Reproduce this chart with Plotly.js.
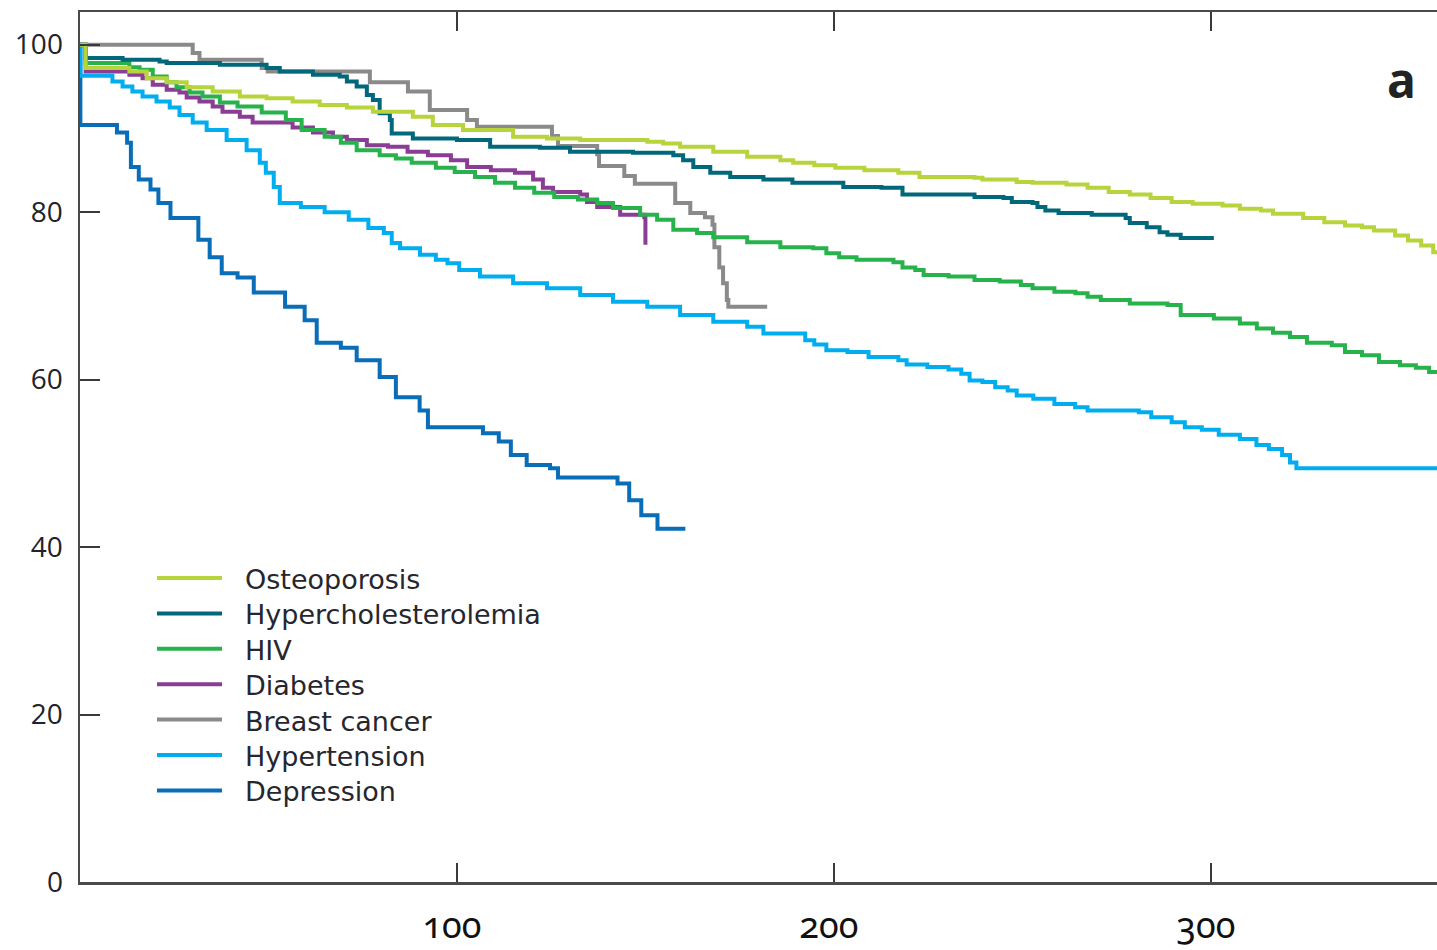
<!DOCTYPE html>
<html>
<head>
<meta charset="utf-8">
<script src="https://cdn.plot.ly/plotly-3.0.1.min.js"></script>
<style>
  html, body { margin: 0; padding: 0; background: #fff; }
  #chart { width: 1437px; height: 950px; }
  .xtick text { font-feature-settings: "onum" 1; }
</style>
</head>
<body>
<div id="chart"></div>
<script>
// ---- data (time on x, percentage still on therapy on y) ----
const seriesNames = ["Osteoporosis", "Hypercholesterolemia", "HIV", "Diabetes", "Breast cancer", "Hypertension", "Depression"];
const seriesColors = ["#B8D43C", "#00687A", "#27B24B", "#8B3D96", "#8A8A8A", "#00AEEF", "#0A6DB8"];

const osteoT = [0,1.5,13.1,17.7,23.0,28.3,35.2,42.4,49.5,56.4,63.6,70.8,77.7,88.3,93.6,101.6,114.9,123.9,132.7,150.5,154.7,159.2,168.0,177.0,185.8,189.2,194.8,200.4,208.1,217.1,222.7,237.3,239.4,248.5,252.7,261.7,267.3,272.9,278.5,284.0,289.6,295.2,303.1,307.7,313.3,316.5,324.5,330.1,335.6,340.1,343.3,348.9,352.3,355.8,359.0,360];
const osteoS = [100,97.2,96.8,96.0,95.5,94.9,94.4,93.8,93.6,93.2,92.8,92.5,92.0,91.4,90.4,89.8,89.0,88.8,88.6,88.4,88.2,87.8,87.2,86.6,86.2,85.9,85.6,85.3,85.0,84.7,84.2,84.1,83.9,83.6,83.5,83.3,82.9,82.4,82.1,81.7,81.2,81.0,80.8,80.4,80.2,79.8,79.3,78.8,78.4,78.2,77.8,77.2,76.6,76.0,75.2,75.1];

const hcT = [0,1.5,11.3,21.1,23.0,37.1,49.5,53.0,61.8,68.9,70.8,73.4,76.1,77.7,79.5,82.2,82.7,88.3,100.0,108.8,122.0,130.0,146.7,157.4,160.0,162.7,167.2,172.5,181.3,189.0,202.5,212.6,218.2,237.3,245.0,247.2,252.7,254.0,256.1,259.6,268.4,277.4,278.5,283.0,286.4,288.5,292.0,300.8];
const hcS = [100,98.4,98.2,98.0,97.8,97.6,97.2,96.8,96.4,96.2,95.6,95.0,94.0,93.4,91.8,91.0,89.4,88.8,88.6,87.8,87.7,87.2,87.1,86.8,86.2,85.4,84.7,84.2,83.9,83.5,83.0,82.9,82.1,81.8,81.7,81.2,81.1,80.6,80.2,79.9,79.7,79.3,78.7,78.2,77.6,77.3,76.9,76.9];

const hivT = [0,1.5,13.1,15.8,19.3,23.0,25.6,29.1,32.5,37.1,41.8,48.2,54.6,58.8,64.9,69.2,73.4,79.5,83.8,88.0,94.4,99.4,104.8,110.1,115.4,120.5,125.8,132.1,137.2,141.4,148.6,153.1,157.4,163.7,168.0,177.0,185.8,194.5,198.0,201.4,206.0,215.8,218.2,221.6,223.8,230.4,237.3,244.0,249.6,252.7,258.5,264.1,267.3,270.8,278.5,288.5,292.0,300.8,307.7,312.2,316.5,321.0,325.5,332.1,335.6,340.1,344.6,350.2,354.4,357.9,360];
const hivS = [100,97.8,97.3,97.0,96.2,95.5,94.9,94.3,93.8,93.1,92.6,91.9,91.0,89.8,89.0,88.3,87.4,86.8,86.4,85.9,85.3,84.8,84.2,83.5,82.9,82.3,81.8,81.5,81.1,80.5,79.7,79.1,77.9,77.5,77.0,76.4,75.8,75.7,75.1,74.6,74.3,74.0,73.4,73.1,72.5,72.3,71.9,71.7,71.3,70.9,70.5,70.3,69.9,69.5,69.1,68.9,67.7,67.3,66.7,66.1,65.6,65.1,64.4,64.1,63.3,62.9,62.1,61.7,61.4,60.9,60.9];

const dbT = [0,1.5,13.1,16.6,19.3,23.0,26.4,28.3,31.7,35.2,37.8,42.4,45.8,56.4,61.8,67.1,70.8,76.1,81.7,86.9,92.3,98.4,102.7,109.0,115.4,120.2,122.8,125.5,132.7,134.5,137.2,143.3,149.7,150.0];
const dbS = [100,96.8,96.4,96.0,95.2,94.6,94.3,93.7,93.2,92.6,92.0,91.4,90.7,90.1,89.5,89.0,88.6,88.0,87.8,87.2,86.8,86.2,85.4,85.0,84.7,83.9,82.9,82.4,82.1,81.2,80.6,79.7,79.4,76.1];

const bcT = [0,29.9,31.7,48.2,49.8,76.9,87.0,92.8,102.7,105.3,125.2,126.8,137.2,137.7,144.4,147.2,157.9,161.9,165.8,167.8,168.3,169.6,170.6,171.6,172.0,182.3];
const bcS = [100,99.0,98.2,97.2,96.8,95.5,94.4,92.2,91.0,90.2,89.1,87.9,86.9,85.5,84.3,83.4,81.1,79.9,79.4,78.5,75.8,73.4,71.5,69.5,68.7,68.7];

const htT = [0,0.1,8.6,11.3,13.9,16.6,20.3,23.8,26.4,29.9,33.6,38.9,44.2,47.7,49.3,51.4,53.0,58.6,64.9,71.3,76.5,80.6,82.7,84.9,90.2,94.4,97.5,100.6,106.1,114.9,123.9,132.7,141.4,150.5,159.2,168.0,177.0,181.3,192.4,194.8,198.0,203.6,209.2,217.1,219.3,224.8,230.4,233.8,236.0,239.4,242.8,246.1,248.5,252.9,258.5,264.0,267.3,280.9,284.2,289.6,293.1,297.6,302.1,307.7,312.1,315.4,318.9,321.0,322.7,360];
const htS = [100,96.3,95.6,95.0,94.4,93.8,93.2,92.5,91.6,90.7,89.8,88.6,87.4,85.9,84.7,83.0,81.1,80.6,80.0,79.1,78.1,77.5,76.3,75.7,74.9,74.3,73.9,73.1,72.3,71.5,70.9,70.1,69.3,68.7,67.7,66.9,66.3,65.5,64.7,64.2,63.5,63.3,62.7,62.3,61.8,61.5,61.2,60.7,59.9,59.7,59.1,58.7,58.1,57.7,57.1,56.7,56.3,56.1,55.5,54.9,54.3,54.0,53.4,52.9,52.2,51.7,51.0,50.1,49.4,49.4];

const dpT = [0,0.1,9.8,12.5,13.5,15.6,18.7,20.8,24.0,31.4,34.4,37.6,41.8,46.1,54.4,59.6,62.8,69.2,73.4,79.5,83.8,90.1,92.3,106.9,111.1,114.3,118.5,124.7,126.8,142.6,145.7,148.9,153.2,160.6];
const dpS = [100,90.4,89.5,88.3,85.4,83.9,82.7,81.1,79.3,76.7,74.6,72.7,72.2,70.4,68.7,67.1,64.4,63.8,62.3,60.3,57.9,56.3,54.3,53.6,52.6,51.0,49.8,49.4,48.3,47.6,45.6,43.8,42.2,42.2];

const xTickVals = [100, 200, 300];
const xTickText = ["100", "200", "300"];
const yTickVals = [0, 20, 40, 60, 80, 100];
const yTickText = ["0", "20", "40", "60", "80", "100"];
const panelLabel = "a";

// ---- build ----
const seriesX = [osteoT, hcT, hivT, dbT, bcT, htT, dpT];
const seriesY = [osteoS, hcS, hivS, dbS, bcS, htS, dpS];
const drawOrder = [6, 5, 4, 3, 2, 1, 0];

const traces = drawOrder.map(i => ({
  type: "scatter",
  mode: "lines",
  name: seriesNames[i],
  x: seriesX[i],
  y: seriesY[i],
  line: { color: seriesColors[i], width: 4, shape: "hv" },
  hoverinfo: "skip"
}));

// manual legend (long line samples as in the original figure)
const plotL = 80, plotR = 1437, plotT = 12, plotB = 882;
const pw = plotR - plotL, ph = plotB - plotT;
const px = v => (v - plotL) / pw;
const py = v => (plotB - v) / ph;

const shapes = [];
const annotations = [];
seriesNames.forEach((nm, i) => {
  const yy = 578 + i * 35.4;
  shapes.push({
    type: "line", xref: "paper", yref: "paper",
    x0: px(157), x1: px(222), y0: py(yy), y1: py(yy),
    line: { color: seriesColors[i], width: 4 }
  });
  annotations.push({
    xref: "paper", yref: "paper", x: px(243), y: py(yy + 1.5),
    xanchor: "left", yanchor: "middle", showarrow: false,
    text: nm, font: { family: "DejaVu Sans", size: 27, color: "#26262e" }
  });
});
annotations.push({
  xref: "paper", yref: "paper", x: px(1401), y: py(79),
  xanchor: "center", yanchor: "middle", showarrow: false,
  text: "<b>" + panelLabel + "</b>", font: { family: "Open Sans", size: 48, color: "#222" }
});

const layout = {
  width: 1437, height: 950,
  margin: { l: plotL, r: 1437 - plotR, t: plotT, b: 950 - plotB },
  paper_bgcolor: "#ffffff", plot_bgcolor: "#ffffff",
  showlegend: false,
  xaxis: {
    range: [0, 360],
    tickmode: "array", tickvals: xTickVals, ticktext: xTickText,
    ticks: "inside", ticklen: 19, tickwidth: 2, tickcolor: "#3a3a3a",
    showline: true, linecolor: "#4a4a4a", linewidth: 2.5, mirror: "ticks",
    showgrid: false, zeroline: false,
    tickfont: { family: "Noto Sans", size: 36, color: "#111" },
    ticklabelstandoff: 10, ticklabelshift: -5
  },
  yaxis: {
    range: [0, 103.9],
    tickmode: "array", tickvals: yTickVals, ticktext: yTickText,
    ticks: "inside", ticklen: 20, tickwidth: 2, tickcolor: "#3a3a3a",
    showline: true, linecolor: "#4a4a4a", linewidth: 2.5, mirror: false,
    showgrid: false, zeroline: false,
    tickfont: { family: "Open Sans", size: 28, color: "#22222a" },
    ticklabelstandoff: 9
  },
  shapes: shapes,
  annotations: annotations
};

Plotly.newPlot("chart", traces, layout, { displayModeBar: false, staticPlot: true });
</script>
</body>
</html>
